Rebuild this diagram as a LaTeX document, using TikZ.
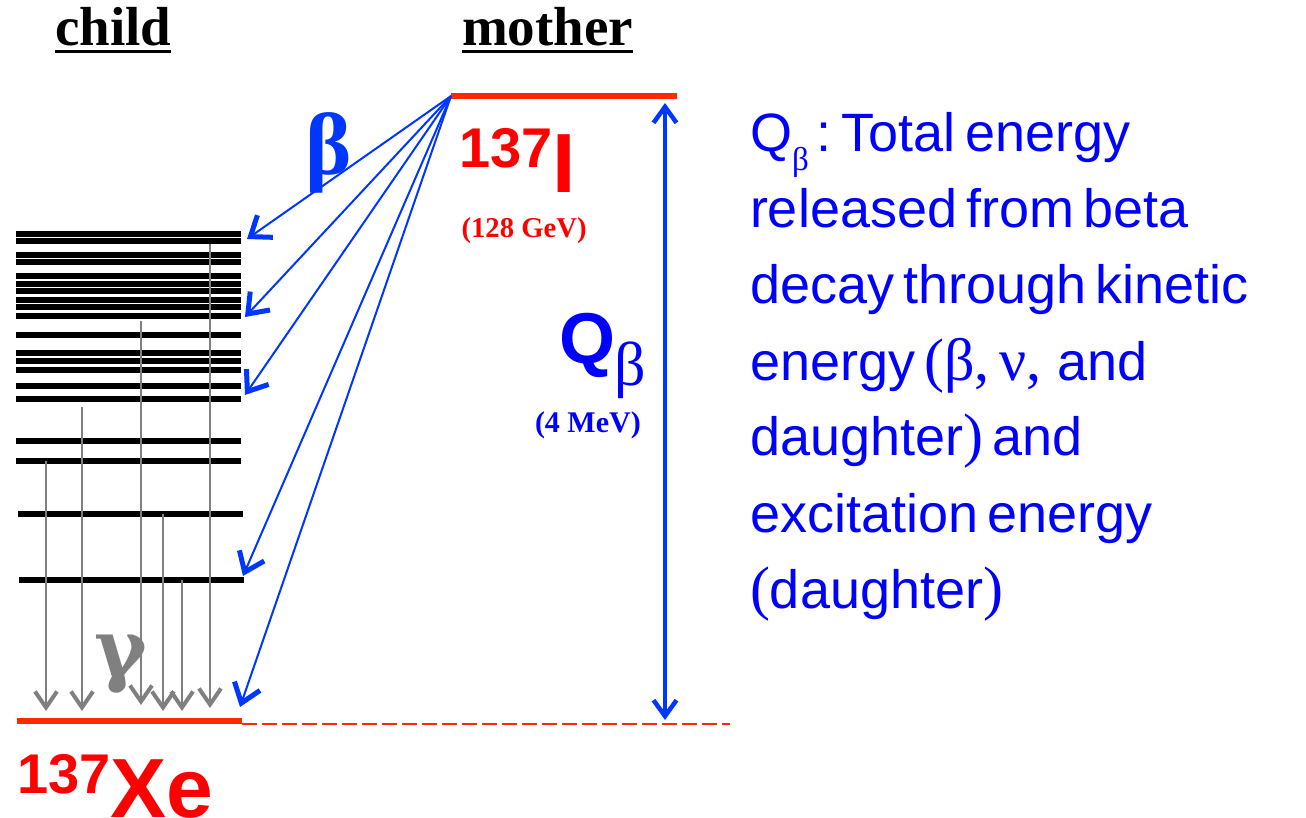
\documentclass[tikz,border=0pt]{standalone}
\usepackage{fontspec}
\setmainfont{Liberation Serif}
\setsansfont{Liberation Sans}
\newfontfamily\grk{Liberation Serif}
\newfontfamily\gfont{DejaVu Serif}
\usetikzlibrary{arrows.meta}
\definecolor{lvred}{RGB}{255,40,0}
\definecolor{txred}{RGB}{255,0,0}
\definecolor{arblue}{RGB}{0,55,255}
\definecolor{txblue}{RGB}{0,0,255}
\definecolor{gamgray}{RGB}{128,128,128}
\newcommand{\fs}[1]{\fontsize{#1}{#1}\selectfont}
\newcommand{\rtfont}{\sffamily\fs{54}}
\newcommand{\tight}{\spaceskip=0.17em\relax}
\begin{document}
\begin{tikzpicture}[x=1pt,y=-1pt,
  lvl/.style={line width=5.5pt, black},
  redlvl/.style={line width=6.5pt, lvred},
  gam/.style={gamgray, line width=2pt, -{Straight Barb[length=16pt,width=22pt,line width=4pt]}},
  bet/.style={arblue, line width=2pt, -{Straight Barb[length=18pt,width=27pt,line width=5pt]}},
  qarr/.style={arblue, line width=3.5pt, {Straight Barb[length=16pt,width=23pt,line width=4.5pt]}-{Straight Barb[length=16pt,width=23pt,line width=4.5pt]}},
  lbl/.style={inner sep=0pt, outer sep=0pt, anchor=base west},
  rt/.style={lbl, txblue, font=\rtfont},
  hdr/.style={lbl, font=\bfseries\fs{55}}]
\useasboundingbox[fill=white] (0,0) rectangle (1306,818);

% headers
\node[hdr] (child) at (55,45.7) {child};
\node[hdr] (mother) at (462,45.7) {mother};
\draw[line width=2.7pt] ([yshift=-5.8pt]child.base west) -- ([yshift=-5.8pt]child.base east);
\draw[line width=2.7pt] ([yshift=-5.8pt]mother.base west) -- ([yshift=-5.8pt]mother.base east);

% child levels
\foreach \y in {234,241,255,262,276,284,291,300,307,316,335,353,361,370,386,399,441,461}
  \draw[lvl] (16,\y) -- (241,\y);
\draw[lvl] (18,514) -- (243,514);
\draw[lvl] (19,580) -- (244,580);

% ground state of child and mother level
\coordinate (g1) at (17,721);
\coordinate (g2) at (242,721);
\draw[redlvl] (g1) -- (g2);
\coordinate (d1) at (242,723.5);
\coordinate (d2) at (730,723.5);
\draw[lvred, line width=2pt, dash pattern=on 15pt off 5pt] (d1) -- (d2);
\coordinate (M) at (451,96);
\coordinate (M2) at (677,96);
\draw[redlvl] (M) -- (M2);

% gamma transitions
\foreach \i/\x/\ys/\ye in {1/46/461/711, 2/82/407/711, 3/141/321/705, 4/163/514/711, 5/182/580/711, 6/210/244/708}{
  \coordinate (gs\i) at (\x,\ys);
  \coordinate (ge\i) at (\x,\ye);
  \draw[gam] (gs\i) -- (ge\i);
}

% beta transitions
\foreach \i/\x/\y in {1/247/239, 2/245/317, 3/245/395, 4/243/576, 5/240/707}{
  \coordinate (b\i) at (\x,\y);
  \draw[bet] (M) -- (b\i);
}

% Q arrow
\coordinate (qt) at (665,103);
\coordinate (qb) at (665,720);
\draw[qarr] (qt) -- (qb);

% labels
\node[lbl, arblue, font=\grk\bfseries\fs{88}] (beta) at (305,175) {β};
\node[lbl, gamgray, font=\gfont\bfseries\fs{80}] (gamma) at (94,676) {γ};
\node[lbl, txred, font=\sffamily\bfseries] (mothnuc) at (459,193) {\fs{56}\raisebox{25pt}{137}\fs{84}I};
\node[lbl, txred, font=\bfseries\fs{28.7}] (mothE) at (461.5,238) {(128 GeV)};
\node[lbl, txred, font=\sffamily\bfseries] (childnuc) at (17,817) {\fs{56}\raisebox{24pt}{137}\fs{84}Xe};
\node[lbl, txblue, font=\sffamily\bfseries\fs{72}] (Q) at (559,363) {Q};
\node[lbl, txblue, font=\grk\fs{62}] (Qb) at (614,385) {β};
\node[lbl, txblue, font=\bfseries\fs{30}] (QE) at (535,432) {(4 MeV)};

% explanation text
\node[rt] (t1) at (750,152) {\tight Q\raisebox{-19pt}{\grk\fs{33}β}\hspace{8pt}:\hspace{10pt}Total energy};
\node[rt] (t2) at (750,228) {\tight released from beta};
\node[rt] (t3) at (750,303) {\tight decay through kinetic};
\node[rt] (t4) at (750,380) {\tight energy {\grk\fs{60}(β,\hspace{10pt}ν,}\hspace{16pt}and};
\node[rt] (t5) at (750,455) {\tight daughter{\grk\fs{60})} and};
\node[rt] (t6) at (750,532) {\tight excitation energy};
\node[rt] (t7) at (750,608) {{\grk\fs{60}(}daughter{\grk\fs{60})}};
\end{tikzpicture}
\end{document}
